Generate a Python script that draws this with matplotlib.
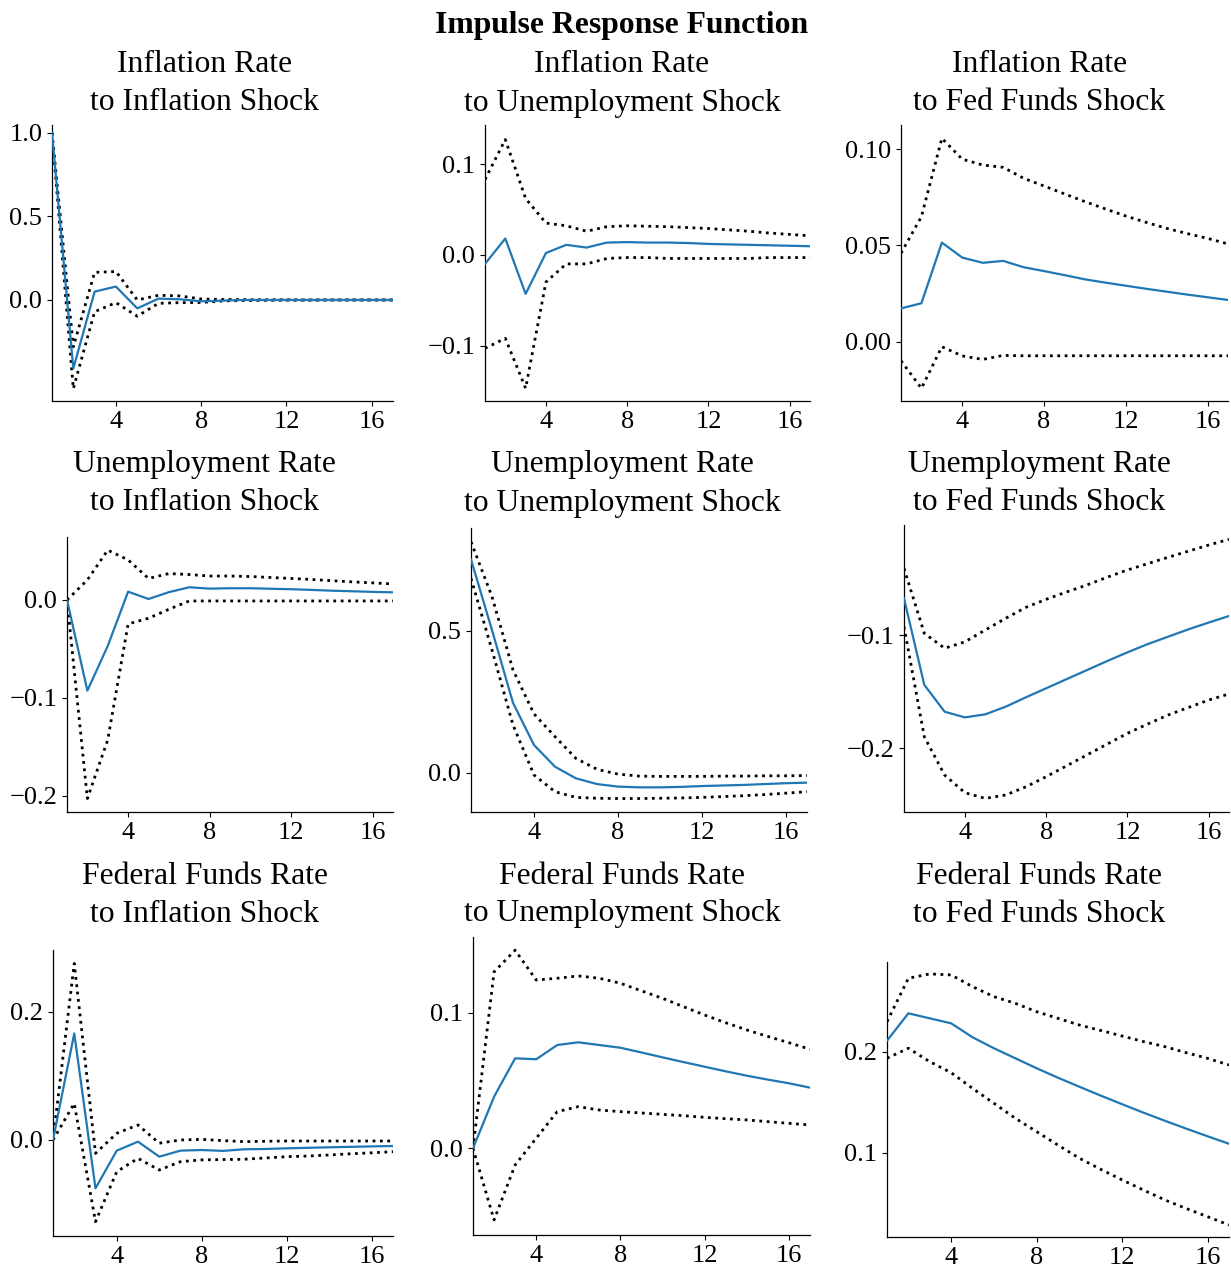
import matplotlib
matplotlib.use("Agg")
import matplotlib.pyplot as plt

plt.rcParams['font.family'] = ['Liberation Serif', 'DejaVu Serif']
plt.rcParams['axes.unicode_minus'] = True

# ---------------- data ----------------
horizons = list(range(1, 18))
xticks = [4, 8, 12, 16]

suptitle = "Impulse Response Function"
row_names = ["Inflation Rate", "Unemployment Rate", "Federal Funds Rate"]
shock_names = ["to Inflation Shock", "to Unemployment Shock", "to Fed Funds Shock"]

# Inflation rate responses
infl_infl_mean = [1.0, -0.41, 0.05, 0.08, -0.05, 0.008, 0.004, -0.008, -0.004, 0.0, 0.0, 0.0, 0.0, 0.0, 0.0, 0.0, 0.0]
infl_infl_low = [1.0, -0.53, -0.07, -0.016, -0.097, -0.02, -0.016, -0.015, -0.006, -0.003, -0.002, -0.001, -0.001, 0.0, 0.0, 0.0, 0.0]
infl_infl_up = [1.0, -0.28, 0.165, 0.17, 0.0, 0.028, 0.024, 0.006, 0.003, 0.002, 0.001, 0.001, 0.0, 0.0, 0.0, 0.0, 0.0]

infl_unemp_mean = [-0.01, 0.018, -0.043, 0.002, 0.011, 0.008, 0.0135, 0.014, 0.0135, 0.0135, 0.013, 0.012, 0.0115, 0.011, 0.0105, 0.01, 0.0095]
infl_unemp_low = [-0.103, -0.092, -0.147, -0.03, -0.01, -0.01, -0.004, -0.003, -0.003, -0.004, -0.004, -0.004, -0.004, -0.004, -0.003, -0.003, -0.003]
infl_unemp_up = [0.083, 0.127, 0.062, 0.035, 0.032, 0.026, 0.031, 0.032, 0.0315, 0.031, 0.030, 0.029, 0.0275, 0.026, 0.024, 0.0225, 0.021]

infl_ff_mean = [0.0173, 0.020, 0.0515, 0.0437, 0.041, 0.042, 0.0387, 0.0367, 0.0346, 0.0324, 0.0307, 0.0291, 0.0275, 0.026, 0.0245, 0.0231, 0.0217]
infl_ff_low = [-0.0099, -0.0242, -0.0026, -0.0074, -0.0092, -0.0071, -0.0073, -0.0073, -0.0073, -0.0073, -0.0073, -0.0073, -0.0073, -0.0073, -0.0073, -0.0073, -0.0073]
infl_ff_up = [0.046, 0.065, 0.1057, 0.0948, 0.0918, 0.0906, 0.0849, 0.0809, 0.0768, 0.0728, 0.069, 0.0653, 0.062, 0.0589, 0.0562, 0.0537, 0.0508]

# Unemployment rate responses
unemp_infl_mean = [0.0, -0.0927, -0.047, 0.0085, 0.001, 0.008, 0.013, 0.0116, 0.012, 0.012, 0.0115, 0.011, 0.0103, 0.0095, 0.0089, 0.0083, 0.0078]
unemp_infl_low = [0.0, -0.203, -0.143, -0.0245, -0.0187, -0.0095, -0.001, -0.001, -0.001, -0.001, -0.001, -0.001, -0.001, -0.001, -0.001, -0.001, -0.001]
unemp_infl_up = [0.0, 0.0205, 0.051, 0.041, 0.022, 0.027, 0.026, 0.0245, 0.0245, 0.024, 0.023, 0.022, 0.021, 0.0197, 0.0185, 0.0175, 0.0164]

unemp_unemp_mean = [0.751, 0.502, 0.246, 0.0975, 0.021, -0.02, -0.04, -0.049, -0.0516, -0.0516, -0.050, -0.047, -0.045, -0.043, -0.040, -0.037, -0.035]
unemp_unemp_low = [0.684, 0.432, 0.168, -0.008, -0.067, -0.087, -0.09, -0.091, -0.091, -0.09, -0.089, -0.087, -0.084, -0.081, -0.077, -0.072, -0.067]
unemp_unemp_up = [0.813, 0.62, 0.362, 0.207, 0.127, 0.05, 0.012, -0.005, -0.012, -0.013, -0.013, -0.013, -0.012, -0.012, -0.011, -0.011, -0.01]

unemp_ff_mean = [-0.0676, -0.144, -0.1677, -0.1727, -0.170, -0.1633, -0.155, -0.147, -0.139, -0.131, -0.123, -0.1153, -0.108, -0.1015, -0.095, -0.089, -0.0832]
unemp_ff_low = [-0.0927, -0.1898, -0.2236, -0.2392, -0.2442, -0.2412, -0.234, -0.225, -0.2155, -0.2059, -0.1963, -0.1868, -0.1785, -0.1706, -0.164, -0.1574, -0.152]
unemp_ff_up = [-0.0412, -0.0985, -0.1117, -0.106, -0.0956, -0.0853, -0.0756, -0.0685, -0.062, -0.0559, -0.049, -0.0426, -0.037, -0.0314, -0.026, -0.0206, -0.0156]

# Federal funds rate responses
ff_infl_mean = [0.0, 0.166, -0.0753, -0.0166, -0.0026, -0.026, -0.0166, -0.0156, -0.017, -0.0145, -0.014, -0.013, -0.0122, -0.0114, -0.0107, -0.010, -0.0094]
ff_infl_low = [0.0, 0.057, -0.1273, -0.0494, -0.0286, -0.0468, -0.0338, -0.031, -0.0305, -0.030, -0.028, -0.026, -0.025, -0.0234, -0.0215, -0.020, -0.0182]
ff_infl_up = [0.0, 0.275, -0.0208, 0.0104, 0.0234, -0.005, 0.0, 0.001, -0.001, -0.0026, -0.002, -0.0016, -0.0016, -0.0016, -0.0016, -0.0016, -0.0016]

ff_unemp_mean = [0.0, 0.038, 0.0663, 0.0656, 0.0761, 0.0781, 0.0761, 0.0741, 0.0706, 0.067, 0.0635, 0.0601, 0.0567, 0.0535, 0.0506, 0.0479, 0.0447]
ff_unemp_low = [0.0, -0.0528, -0.0123, 0.0074, 0.027, 0.0307, 0.0282, 0.027, 0.026, 0.025, 0.024, 0.0228, 0.0218, 0.0209, 0.0196, 0.0184, 0.0172]
ff_unemp_up = [0.0, 0.130, 0.146, 0.124, 0.1253, 0.127, 0.1253, 0.1216, 0.116, 0.1105, 0.1043, 0.0982, 0.0925, 0.0872, 0.0824, 0.0778, 0.073]

ff_ff_mean = [0.2109, 0.238, 0.233, 0.2281, 0.2143, 0.2034, 0.1935, 0.1836, 0.1742, 0.1653, 0.1565, 0.148, 0.1396, 0.1316, 0.1238, 0.1162, 0.1088]
ff_ff_low = [0.1935, 0.2034, 0.1901, 0.1792, 0.1637, 0.1489, 0.1341, 0.1208, 0.1075, 0.0945, 0.0835, 0.073, 0.063, 0.0532, 0.0447, 0.0366, 0.0284]
ff_ff_up = [0.2297, 0.2727, 0.277, 0.276, 0.2644, 0.2545, 0.2479, 0.2396, 0.233, 0.2264, 0.221, 0.2155, 0.21, 0.205, 0.199, 0.1934, 0.1868]

# y tick values per panel
yticks_list = [
    [0.0, 0.5, 1.0], [-0.1, 0.0, 0.1], [0.00, 0.05, 0.10],
    [-0.2, -0.1, 0.0], [0.0, 0.5], [-0.2, -0.1],
    [0.0, 0.2], [0.0, 0.1], [0.1, 0.2],
]
ytick_decimals = [1, 1, 2, 1, 1, 1, 1, 1, 1]

# ---------------- layout (pixels) ----------------
W, H = 1231, 1268
# (left, right, top, bottom) of each axes in pixels
axes_px = [
    (52, 393, 125, 401), (485, 810, 125, 401), (901, 1228, 125, 401),
    (67, 393, 537, 812), (471, 807, 528, 812), (904, 1229, 525, 812),
    (53, 393, 950, 1236), (473, 810, 937, 1235), (887, 1229, 962, 1237),
]
ylims = [
    (-0.604, 1.046), (-0.161, 0.143), (-0.0308, 0.1126),
    (-0.2168, 0.0644), (-0.1384, 0.8616), (-0.2562, -0.0029),
    (-0.1496, 0.296), (-0.0639, 0.1557), (0.0165, 0.2888),
]
title_x = [204.5, 622, 1039.5]
title_y = [(65, 103), (465, 503), (876, 914)]

series = [
    (infl_infl_mean, infl_infl_low, infl_infl_up),
    (infl_unemp_mean, infl_unemp_low, infl_unemp_up),
    (infl_ff_mean, infl_ff_low, infl_ff_up),
    (unemp_infl_mean, unemp_infl_low, unemp_infl_up),
    (unemp_unemp_mean, unemp_unemp_low, unemp_unemp_up),
    (unemp_ff_mean, unemp_ff_low, unemp_ff_up),
    (ff_infl_mean, ff_infl_low, ff_infl_up),
    (ff_unemp_mean, ff_unemp_low, ff_unemp_up),
    (ff_ff_mean, ff_ff_low, ff_ff_up),
]

fig = plt.figure(figsize=(W / 100, H / 100), dpi=100)

TITLE_FS = 22.8
TICK_FS = 19

for i, (mean, low, up) in enumerate(series):
    l, r, t, b = axes_px[i]
    ax = fig.add_axes([l / W, 1 - b / H, (r - l) / W, (b - t) / H])
    ax.plot(horizons, mean, color='#1f77b4', lw=1.6, zorder=3)
    ax.plot(horizons, low, color='black', ls=':', lw=2.0)
    ax.plot(horizons, up, color='black', ls=':', lw=2.0)
    ax.set_xlim(1, 17)
    ax.set_ylim(*ylims[i])
    ax.set_xticks(xticks)
    ax.set_xticklabels([str(v) for v in xticks])
    yt = yticks_list[i]
    d = ytick_decimals[i]
    ax.set_yticks(yt)
    ax.set_yticklabels([f"{v:.{d}f}".replace('-', '\u2212') for v in yt])
    ax.tick_params(labelsize=TICK_FS, length=3.5, width=0.8)
    for s in ['top', 'right']:
        ax.spines[s].set_visible(False)
    for s in ['left', 'bottom']:
        ax.spines[s].set_linewidth(0.9)

for row in range(3):
    for col in range(3):
        fig.text(title_x[col] / W, 1 - title_y[row][0] / H, row_names[row],
                 ha='center', va='center', fontsize=TITLE_FS)
        fig.text(title_x[col] / W, 1 - title_y[row][1] / H, shock_names[col],
                 ha='center', va='center', fontsize=TITLE_FS)

fig.text(622 / W, 1 - 25 / H, suptitle, ha='center', va='center',
         fontsize=TITLE_FS, fontweight='bold')

fig.savefig("out.png", dpi=100)
